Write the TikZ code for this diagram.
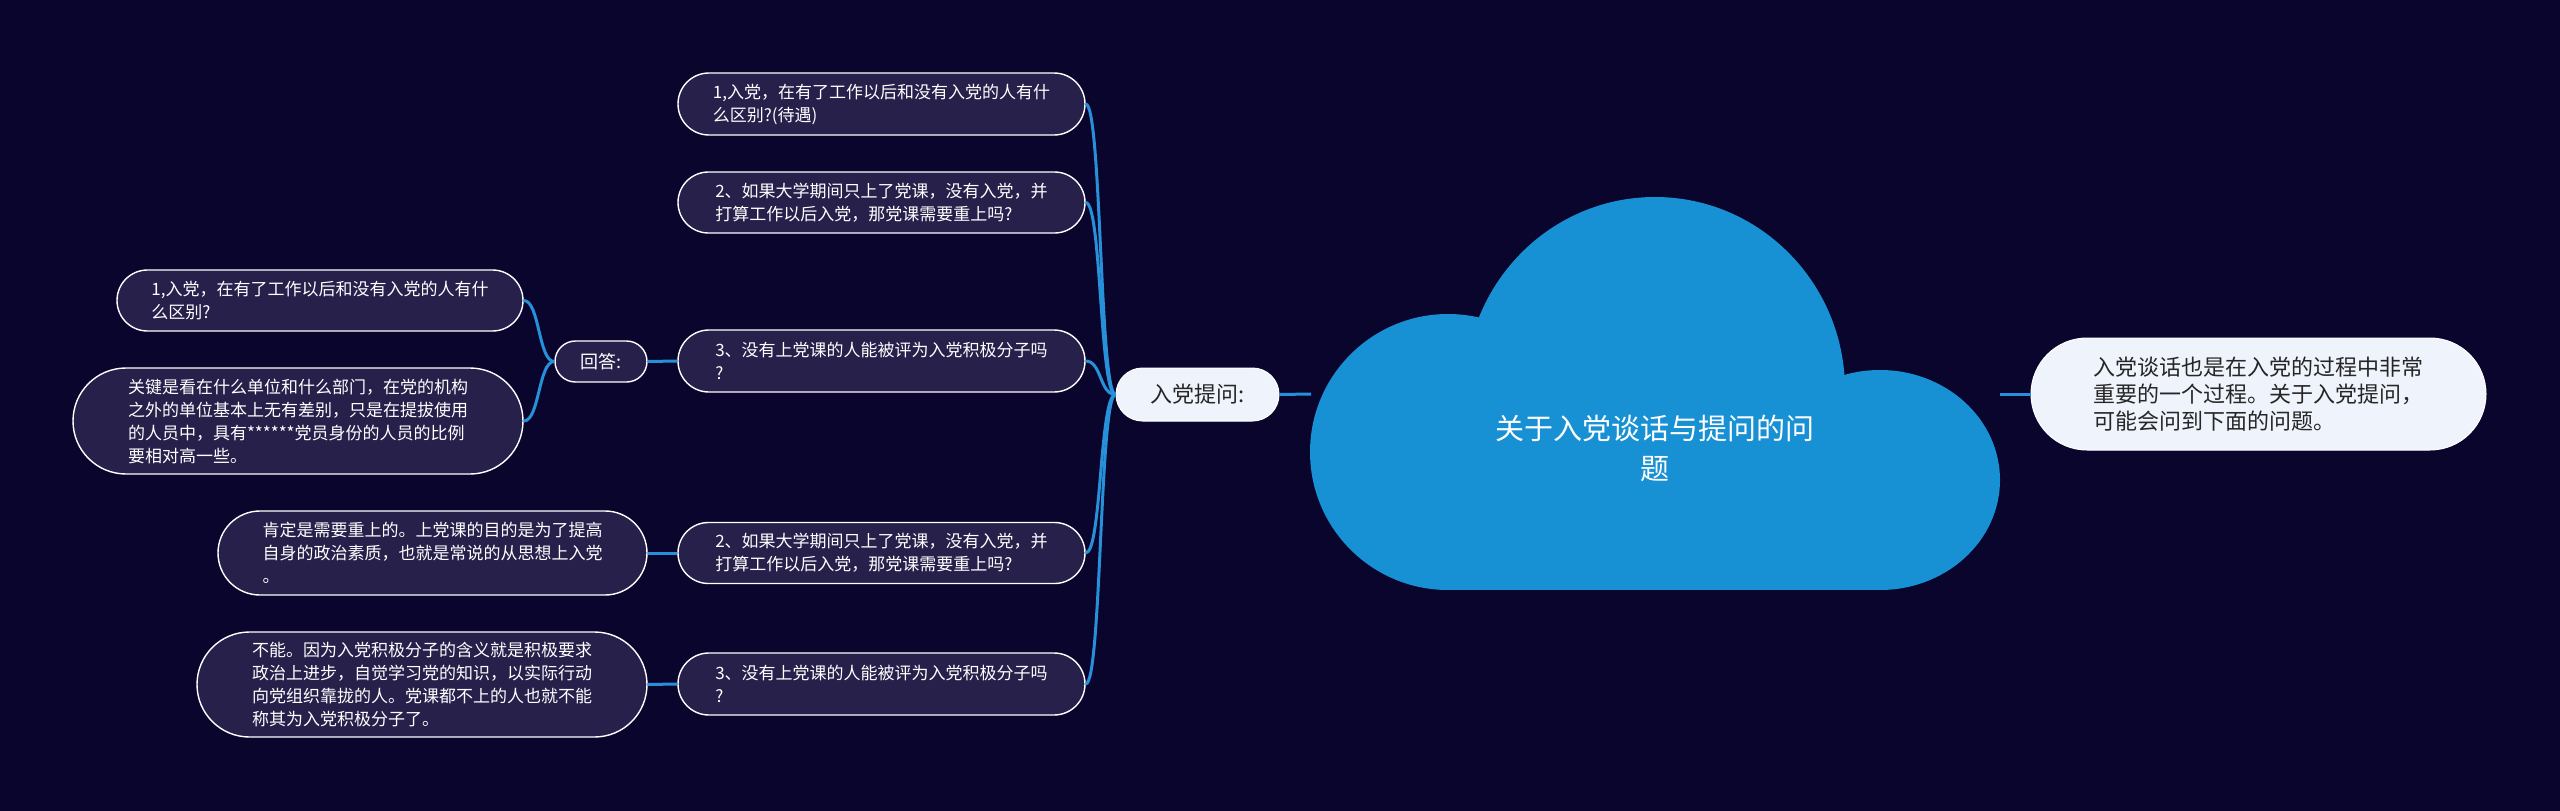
\documentclass[tikz,border=0pt]{standalone}
\usepackage{fontspec}
\newfontfamily\cjk{Noto Sans CJK SC}
\definecolor{bg}{HTML}{0A052D}
\definecolor{nodefill}{HTML}{26204B}
\definecolor{lightfill}{HTML}{EEF3FC}
\definecolor{linkblue}{HTML}{2690D8}
\definecolor{cloudblue}{HTML}{1890D4}
\definecolor{darktext}{HTML}{262626}
\begin{document}
\begin{tikzpicture}[x=1pt,y=-1pt,
  pill/.style n args={3}{rectangle, minimum width=#1, minimum height=#2, rounded corners=#3, inner sep=0pt, align=left},
  darkbox/.style={draw=white, line width=1.4pt, fill=nodefill, text=white, font=\cjk\fontsize{17}{23}\selectfont},
  lightbox/.style={draw=white, line width=1pt, fill=lightfill, text=darktext, font=\cjk\fontsize{22}{27}\selectfont},
  titletext/.style={text=white, align=center, inner sep=0pt, font=\cjk\fontsize{29}{40}\selectfont},
  linkline/.style={draw=linkblue, line width=3pt}
]
\fill[bg] (0,0) rectangle (2560,811);
\useasboundingbox (0,0) rectangle (2560,811);

% cloud shape
\fill[cloudblue] (1448,452) circle[radius=138pt];
\fill[cloudblue] (1655,390) ellipse[x radius=190pt, y radius=193pt];
\fill[cloudblue] (1880,480) ellipse[x radius=120pt, y radius=110pt];
\fill[cloudblue] (1446,400) rectangle (1882,590);
\node[titletext] (cloud) at (1655,448) {关于入党谈话与提问的问\\题};
\coordinate (cloudW) at (1311,394);
\coordinate (cloudE) at (2000,394);

% right intro node
\node[lightbox, pill={455pt}{112pt}{56pt}] (intro) at (2258.5,394) {入党谈话也是在入党的过程中非常\\重要的一个过程。关于入党提问，\\可能会问到下面的问题。};

% main branch
\node[lightbox, pill={163pt}{53pt}{26.5pt}] (ruq) at (1197.5,394.5) {入党提问:};

% question nodes
\node[darkbox, pill={407pt}{62pt}{31pt}] (a1) at (881.5,104) {1,入党，在有了工作以后和没有入党的人有什\\么区别?(待遇)};
\node[darkbox, pill={407pt}{61pt}{30.5pt}] (a2) at (881.5,202.5) {2、如果大学期间只上了党课，没有入党，并\\打算工作以后入党，那党课需要重上吗?};
\node[darkbox, pill={407pt}{62pt}{31pt}] (a3) at (881.5,361) {3、没有上党课的人能被评为入党积极分子吗\\?};
\node[darkbox, pill={407pt}{61pt}{30.5pt}] (a4) at (881.5,553) {2、如果大学期间只上了党课，没有入党，并\\打算工作以后入党，那党课需要重上吗?};
\node[darkbox, pill={407pt}{62pt}{31pt}] (a5) at (881.5,684) {3、没有上党课的人能被评为入党积极分子吗\\?};

% answer nodes
\node[darkbox, pill={92pt}{41pt}{20.5pt}, font=\cjk\fontsize{18}{22}\selectfont] (hd) at (601,361.5) {回答:};
\node[darkbox, pill={406pt}{61pt}{30.5pt}] (b1) at (320,300.5) {1,入党，在有了工作以后和没有入党的人有什\\么区别?};
\node[darkbox, pill={450pt}{106pt}{53pt}] (b2) at (298,421) {关键是看在什么单位和什么部门，在党的机构\\之外的单位基本上无有差别，只是在提拔使用\\的人员中，具有******党员身份的人员的比例\\要相对高一些。};
\node[darkbox, pill={429pt}{84pt}{42pt}] (c1) at (432.5,553) {肯定是需要重上的。上党课的目的是为了提高\\自身的政治素质，也就是常说的从思想上入党\\。};
\node[darkbox, pill={450pt}{105pt}{52.5pt}] (c2) at (422,684.5) {不能。因为入党积极分子的含义就是积极要求\\政治上进步，自觉学习党的知识，以实际行动\\向党组织靠拢的人。党课都不上的人也就不能\\称其为入党积极分子了。};

% connectors
\foreach \n in {a1,a2,a3,a4,a5}{
  \draw[linkline] (ruq.west) .. controls +(-16,0) and +(16,0) .. (\n.east);
}
\draw[linkline] (hd.west) .. controls +(-16,0) and +(16,0) .. (b1.east);
\draw[linkline] (hd.west) .. controls +(-16,0) and +(16,0) .. (b2.east);
\draw[linkline] (hd.east) -- (a3.west);
\draw[linkline] (c1.east) -- (a4.west);
\draw[linkline] (c2.east) -- (a5.west);
\draw[linkline] (ruq.east) -- (cloudW);
\draw[linkline] (cloudE) -- (intro.west);
\end{tikzpicture}
\end{document}
